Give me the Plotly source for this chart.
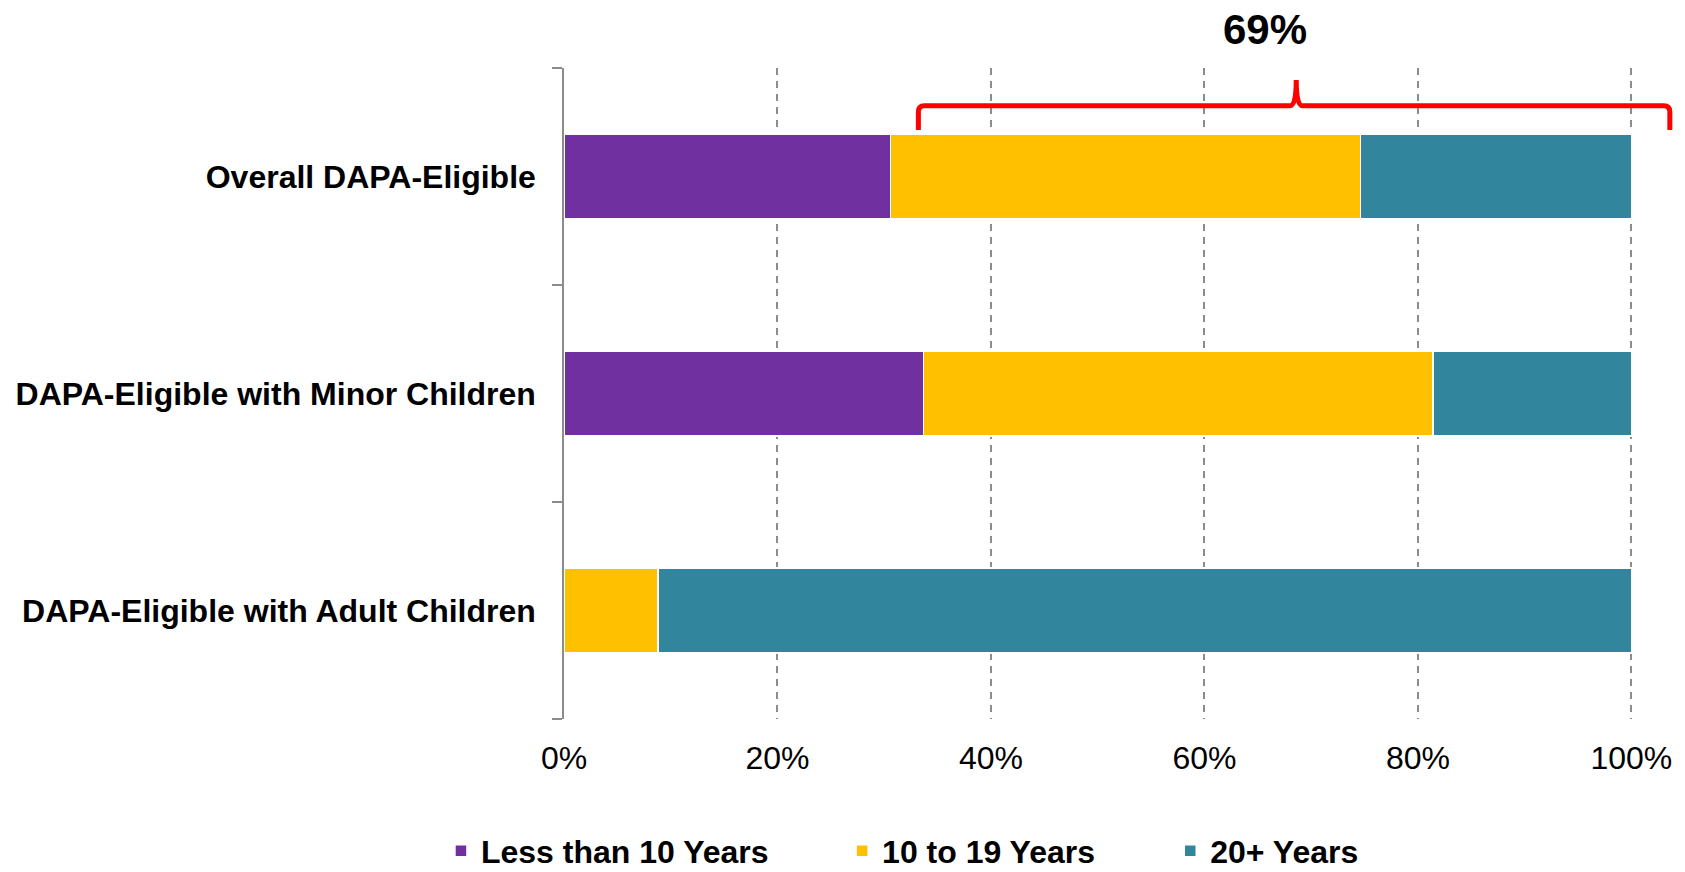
import plotly.graph_objects as go

categories = ["Overall DAPA-Eligible", "DAPA-Eligible with Minor Children", "DAPA-Eligible with Adult Children"]
series_names = ["Less than 10 Years", "10 to 19 Years", "20+ Years"]
less_than_10 = [30.6, 33.7, 0.0]
ten_to_19 = [44.0, 47.7, 8.8]
twenty_plus = [25.4, 18.6, 91.2]
tick_vals = [0, 20, 40, 60, 80, 100]
tick_text = ["0%", "20%", "40%", "60%", "80%", "100%"]
bracket_label = "69%"
bracket_start, bracket_peak, bracket_end = 33.2, 68.6, 103.6

colors = ["#7030A0", "#FFC000", "#31859C"]
values = [less_than_10, ten_to_19, twenty_plus]
legend_ids = ["legend", "legend2", "legend3"]

FONT = "Liberation Sans, Arial, sans-serif"

fig = go.Figure()
for name, vals, col, lg in zip(series_names, values, colors, legend_ids):
    fig.add_trace(go.Bar(
        y=categories, x=vals, name=name, orientation="h",
        marker=dict(color=col, line=dict(color="white", width=1.5)),
        legend=lg,
    ))

W, H = 1685, 872
XMAX = 100.15
PX_PER_PCT = 10.67
ml, mt, mb = 564, 68, 153
pw = XMAX * PX_PER_PCT
mr = W - ml - pw
ph = H - mt - mb

def px_y(py):
    return (H - mb - py) / ph

def px_x(px):
    return px / pw

# bracket path in paper coords
xl, xp, xr = bracket_start / XMAX, bracket_peak / XMAX, bracket_end / XMAX
yb, yl, yt = px_y(130), px_y(105.7), px_y(80)
rx, ry = px_x(6), 6 / ph
sx = px_x(6)
path = (
    f"M {xl},{yb} L {xl},{yl - ry} Q {xl},{yl} {xl + rx},{yl} "
    f"L {xp - sx},{yl} Q {xp},{yl} {xp},{yt} Q {xp},{yl} {xp + sx},{yl} "
    f"L {xr - rx},{yl} Q {xr},{yl} {xr},{yl - ry} L {xr},{yb}"
)

legend_common = dict(
    orientation="h", yanchor="middle", y=px_y(851), xanchor="left",
    font=dict(family=FONT, size=32, color="black", weight="bold"),
    bgcolor="rgba(0,0,0,0)", borderwidth=0,
)

fig.update_layout(
    width=W, height=H,
    margin=dict(l=ml, r=mr, t=mt, b=mb, pad=0, autoexpand=False),
    barmode="stack", bargap=0.61,
    plot_bgcolor="white", paper_bgcolor="white",
    font=dict(family=FONT, color="black"),
    showlegend=True,
    legend=dict(x=(441 - ml) / pw, **legend_common),
    legend2=dict(x=(842 - ml) / pw, **legend_common),
    legend3=dict(x=(1170 - ml) / pw, **legend_common),
    xaxis=dict(
        range=[0, XMAX], tickvals=tick_vals, ticktext=tick_text,
        showgrid=True, gridcolor="#8C8C8C", gridwidth=1.5, griddash="7px,6px",
        zeroline=False, showline=False, ticks="",
        tickfont=dict(family=FONT, size=32, color="black"),
        ticklabelstandoff=17, fixedrange=True,
    ),
    yaxis=dict(
        categoryorder="array", categoryarray=categories[::-1],
        showgrid=False, zeroline=False,
        showline=True, linecolor="#8C8C8C", linewidth=1.5,
        ticks="outside", tickson="boundaries", ticklen=10, tickcolor="#8C8C8C", tickwidth=1.5,
        tickfont=dict(family=FONT, size=32, color="black", weight="bold"),
        ticklabelstandoff=20, fixedrange=True,
    ),
    shapes=[dict(type="path", xref="paper", yref="paper", path=path,
                 line=dict(color="#FF0000", width=5), layer="above")],
    annotations=[dict(text=bracket_label, xref="paper", yref="paper",
                      x=(1264.5 - ml) / pw, y=px_y(30), xanchor="center", yanchor="middle",
                      showarrow=False,
                      font=dict(family=FONT, size=42, color="black", weight="bold"))],
)

fig.write_html("out.html", config={"displayModeBar": False})
